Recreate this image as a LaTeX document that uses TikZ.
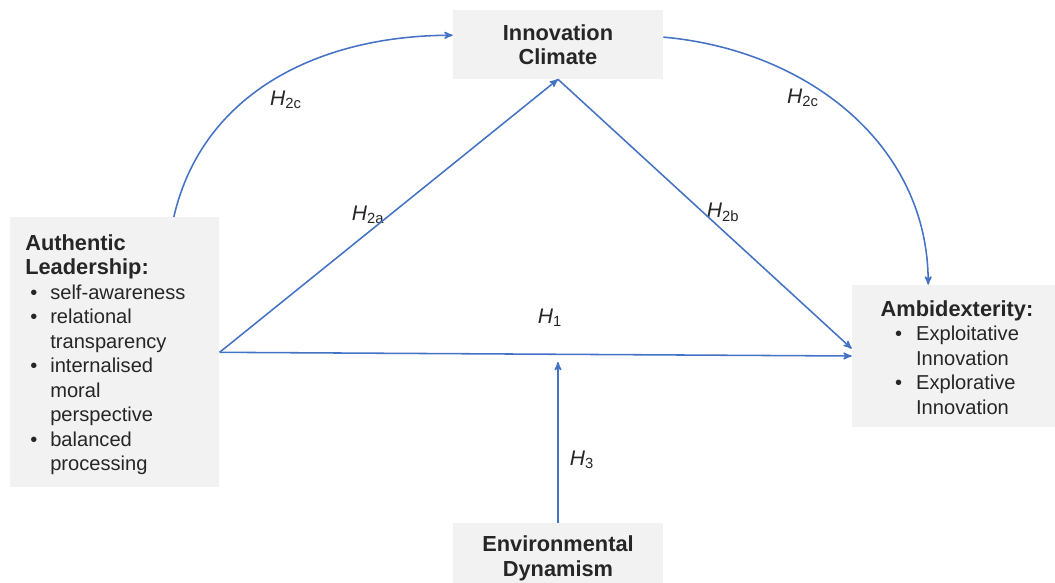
\documentclass[tikz,border=0pt]{standalone}
\usepackage{fontspec}
\setmainfont{Liberation Sans}
\usepackage{tikz}
\usetikzlibrary{arrows,shapes}
\definecolor{boxgray}{HTML}{F2F2F2}
\definecolor{arrowblue}{HTML}{4472C4}
\definecolor{txtgray}{HTML}{262626}
\tikzstyle{construct}=[fill=boxgray,text=txtgray,inner sep=0pt,font=\fontsize{14.3}{17.4}\selectfont]
\tikzstyle{edge} = [draw,line width=1.1pt,arrowblue,->,>=stealth']
\tikzstyle{hyp}=[text=txtgray,font=\fontsize{15}{18}\selectfont]
\newcommand{\hname}[1]{\textit{H}\textsubscript{#1}}
\newcommand{\head}[1]{{\fontsize{15.5}{18.5}\selectfont\bfseries #1}}

\begin{document}
\begin{tikzpicture}[x=0.025cm,y=-0.025cm]
        \useasboundingbox (0,0) rectangle (1055,583);
        \node[construct,anchor=north west,text width=4.475cm,inner xsep=0.375cm,
              minimum height=6.75cm,align=left] (auth) at (10,217)
              {\rule{0pt}{17pt}\head{Authentic}\\ \head{Leadership:}\\
               \begin{tabular}[t]{@{\hspace{3.6pt}}p{14.2pt}@{}l@{}}
               \textbullet & self-awareness\\
               \textbullet & relational\\
                           & transparency\\
               \textbullet & internalised\\
                           & moral\\
                           & perspective\\
               \textbullet & balanced\\
                           & processing
               \end{tabular}};
        \node[construct,minimum width=5.25cm,minimum height=1.725cm,align=center] (innov) at (558,44.5)
              {\head{Innovation}\\ \head{Climate}};
        \node[construct,minimum width=5.25cm,minimum height=3.55cm,align=center] (ambi) at (957,356)
              {\rule{0pt}{18.3pt}\head{Ambidexterity:}\\
               \begin{tabular}[t]{@{}p{15pt}@{}l@{}}
               \textbullet & Exploitative\\
                           & Innovation\\
               \textbullet & Explorative\\
                           & Innovation
               \end{tabular}};
        \node[construct,minimum width=5.25cm,minimum height=1.775cm,align=center] (env) at (558,558.5)
              {\head{Environmental}\\ \head{Dynamism}};
        \coordinate (mod) at (558,362);
        % hypothesis labels
        \node[hyp] (h2cl) at (286,100) {\hname{2c}};
        \node[hyp] (h2a) at (368,215) {\hname{2a}};
        \node[hyp] (h2b) at (723,212) {\hname{2b}};
        \node[hyp] (h1) at (550,318) {\hname{1}};
        \node[hyp] (h3) at (582,460) {\hname{3}};
        \node[hyp] (h2cr) at (803,98) {\hname{2c}};
        % paths
        \draw[edge] (auth.east) to (innov.south);
        \draw[edge] (innov.south) to (ambi.176);
        \draw[edge] (auth.east) to (ambi.west);
        \draw[edge] (env.north) to (mod);
        \draw[edge] (auth.north) ++(59,0) to[out=77,in=180] (innov.175);
        \draw[edge] (innov.4) to[out=-5,in=90] (ambi.112);
      \end{tikzpicture}
\end{document}
